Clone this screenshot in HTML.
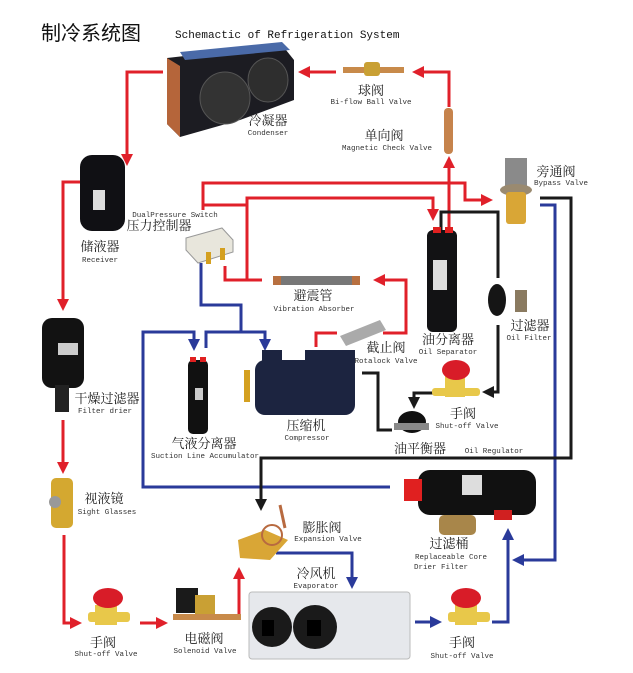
<!DOCTYPE html>
<html><head><meta charset="utf-8"><style>
html,body{margin:0;padding:0;background:#fff;}
svg{display:block;}
.cn{font-family:"Liberation Serif","Noto Serif CJK SC",serif;font-size:13px;fill:#222;text-anchor:middle;}
.en{font-family:"Liberation Mono",monospace;font-size:7.5px;fill:#333;text-anchor:middle;}
.r{stroke:#e0202a;stroke-width:3;fill:none;}
.b{stroke:#2a3a9a;stroke-width:3;fill:none;}
.k{stroke:#1a1a1a;stroke-width:3;fill:none;}
</style></head><body>
<svg width="633" height="673" viewBox="0 0 633 673" xmlns="http://www.w3.org/2000/svg">
<defs>
<marker id="ar" markerWidth="4" markerHeight="4" refX="2" refY="2" orient="auto" markerUnits="strokeWidth"><path d="M0,0 L4,2 L0,4z" fill="#e0202a"/></marker>
<marker id="ab" markerWidth="4" markerHeight="4" refX="2" refY="2" orient="auto" markerUnits="strokeWidth"><path d="M0,0 L4,2 L0,4z" fill="#2a3a9a"/></marker>
<marker id="ak" markerWidth="4" markerHeight="4" refX="2" refY="2" orient="auto" markerUnits="strokeWidth"><path d="M0,0 L4,2 L0,4z" fill="#1a1a1a"/></marker>
</defs>
<text x="41" y="40" style="font-family:'Noto Sans CJK SC',sans-serif;font-size:20px;fill:#111">制冷系统图</text>
<text x="175" y="38" style="font-family:'Liberation Mono',monospace;font-size:11px;fill:#111">Schemactic of Refrigeration System</text>

<!-- red lines -->
<polyline class="r" points="163,72 127,72 127,160" marker-end="url(#ar)"/>
<polyline class="r" points="80,182 63,182 63,305" marker-end="url(#ar)"/>
<polyline class="r" points="63,420 63,468" marker-end="url(#ar)"/>
<polyline class="r" points="64,535 64,623 76,623" marker-end="url(#ar)"/>
<polyline class="r" points="140,623 162,623" marker-end="url(#ar)"/>
<polyline class="r" points="239,615 239,573" marker-end="url(#ar)"/>
<polyline class="r" points="336,72 304,72" marker-end="url(#ar)"/>
<polyline class="r" points="449,107 449,72 418,72" marker-end="url(#ar)"/>
<polyline class="r" points="449,230 449,162" marker-end="url(#ar)"/>
<polyline class="r" points="203,210 203,183 465,183 465,200 487,200" marker-end="url(#ar)"/>
<polyline class="r" points="203,205 247,205"/>
<polyline class="r" points="247,280 247,198 433,198 433,215" marker-end="url(#ar)"/>
<polyline class="r" points="262,280 225,280 225,266"/>
<polyline class="r" points="383,333 406,333 406,280 379,280" marker-end="url(#ar)"/>
<polyline class="r" points="316,347 316,333 337,333"/>

<!-- blue lines -->
<polyline class="b" points="201,263 201,305 241,305 241,332"/>
<polyline class="b" points="390,487 143,487 143,332 194,332 194,345" marker-end="url(#ab)"/>
<polyline class="b" points="206,348 206,332 265,332 265,345" marker-end="url(#ab)"/>
<polyline class="b" points="540,205 555,205 555,560 518,560" marker-end="url(#ab)"/>
<polyline class="b" points="492,622 508,622 508,534" marker-end="url(#ab)"/>
<polyline class="b" points="415,622 436,622" marker-end="url(#ab)"/>
<polyline class="b" points="276,553 352,553 352,583" marker-end="url(#ab)"/>

<!-- black lines -->
<polyline class="k" points="441,230 441,212 498,212 498,278"/>
<polyline class="k" points="498,325 498,392 488,392" marker-end="url(#ak)"/>
<polyline class="k" points="433,393 414,393 414,403" marker-end="url(#ak)"/>
<polyline class="k" points="540,198 571,198 571,458 261,458 261,505" marker-end="url(#ak)"/>
<polyline class="k" points="362,373 378,373 378,430 392,430"/>

<!-- condenser -->
<polygon points="167,58 282,45 294,60 294,100 240,120 180,137 167,124" fill="#1c1c22"/>
<polygon points="167,58 180,66 180,137 167,124" fill="#b5653a"/>
<ellipse cx="225" cy="98" rx="25" ry="26" fill="#333" stroke="#555"/>
<ellipse cx="268" cy="80" rx="20" ry="22" fill="#2e2e2e" stroke="#555"/>
<polygon points="180,52 282,42 290,50 185,60" fill="#4a6aa8"/>
<!-- ball valve -->
<rect x="343" y="67" width="61" height="6" fill="#c88a4a"/>
<rect x="364" y="62" width="16" height="14" rx="3" fill="#c9a034"/>
<!-- check valve -->
<rect x="444" y="108" width="9" height="46" rx="4" fill="#c6834c"/>
<!-- receiver -->
<rect x="80" y="155" width="45" height="76" rx="12" fill="#101014"/>
<rect x="93" y="190" width="12" height="20" fill="#ddd"/>
<!-- pressure switch -->
<polygon points="186,238 222,228 233,240 233,252 198,263 186,250" fill="#e8e6dc" stroke="#999"/>
<rect x="206" y="252" width="5" height="12" fill="#d4a020"/><rect x="220" y="248" width="5" height="12" fill="#d4a020"/>
<!-- vibration absorber -->
<rect x="273" y="276" width="87" height="9" rx="3" fill="#777"/>
<rect x="273" y="276" width="8" height="9" fill="#b87040"/><rect x="352" y="276" width="8" height="9" fill="#b87040"/>
<!-- oil separator -->
<rect x="427" y="230" width="30" height="102" rx="6" fill="#121214"/>
<rect x="433" y="227" width="8" height="6" fill="#e02020"/><rect x="445" y="227" width="8" height="6" fill="#e02020"/>
<rect x="433" y="260" width="14" height="30" fill="#ddd"/>
<!-- bypass valve -->
<rect x="505" y="158" width="22" height="30" fill="#8a8a8a"/>
<ellipse cx="516" cy="190" rx="16" ry="6" fill="#9a8a70"/>
<rect x="506" y="192" width="20" height="32" rx="3" fill="#d9a636"/>
<!-- oil filter -->
<ellipse cx="497" cy="300" rx="9" ry="16" fill="#151515"/>
<rect x="515" y="290" width="12" height="22" fill="#8a7a60"/>
<!-- rotalock -->
<polygon points="340,336 380,320 386,330 346,346" fill="#aaa"/>
<!-- compressor -->
<rect x="255" y="360" width="100" height="55" rx="10" fill="#1c2440"/>
<rect x="305" y="350" width="50" height="20" fill="#1c2440"/>
<rect x="262" y="350" width="20" height="15" fill="#1c2440"/>
<rect x="244" y="370" width="6" height="32" fill="#d4a020"/>
<!-- accumulator -->
<rect x="188" y="360" width="20" height="74" rx="5" fill="#111"/>
<rect x="190" y="357" width="6" height="5" fill="#e02020"/><rect x="200" y="357" width="6" height="5" fill="#e02020"/>
<rect x="195" y="388" width="8" height="12" fill="#ccc"/>
<!-- filter drier -->
<rect x="42" y="318" width="42" height="70" rx="10" fill="#121212"/>
<rect x="55" y="385" width="14" height="27" fill="#222"/>
<rect x="58" y="343" width="20" height="12" fill="#ccc"/>
<!-- sight glass -->
<rect x="51" y="478" width="22" height="50" rx="5" fill="#d4a830"/>
<circle cx="55" cy="502" r="6" fill="#999"/>
<!-- shut-off valve upper -->
<rect x="445" y="375" width="20" height="22" fill="#e8c84a"/>
<rect x="432" y="388" width="48" height="8" rx="3" fill="#e8c84a"/>
<ellipse cx="456" cy="370" rx="14" ry="10" fill="#d81c28"/>
<!-- oil regulator -->
<ellipse cx="412" cy="422" rx="14" ry="11" fill="#111"/>
<rect x="394" y="423" width="35" height="7" fill="#888"/>
<!-- replaceable core drier -->
<rect x="418" y="470" width="118" height="45" rx="12" fill="#111"/>
<rect x="404" y="479" width="18" height="22" fill="#e02020"/>
<rect x="494" y="510" width="18" height="10" fill="#d02020"/>
<rect x="462" y="475" width="20" height="20" fill="#ddd"/>
<rect x="439" y="515" width="37" height="20" rx="5" fill="#a8864a"/>
<!-- expansion valve -->
<polygon points="238,540 265,530 288,540 270,560 240,558" fill="#d9a636"/>
<circle cx="272" cy="535" r="10" fill="none" stroke="#b86a40" stroke-width="2"/>
<line x1="280" y1="505" x2="285" y2="528" stroke="#b86a40" stroke-width="3"/>
<!-- evaporator -->
<rect x="249" y="592" width="161" height="67" rx="3" fill="#e6e8ec" stroke="#bbb"/>
<circle cx="272" cy="627" r="20" fill="#1a1a1a"/><circle cx="315" cy="627" r="22" fill="#1a1a1a"/>
<rect x="262" y="620" width="12" height="16" fill="#000"/><rect x="307" y="620" width="14" height="16" fill="#000"/>
<!-- lower shut-offs -->
<rect x="95" y="605" width="22" height="20" fill="#e8c84a"/><rect x="88" y="612" width="42" height="10" rx="3" fill="#e8c84a"/>
<ellipse cx="108" cy="598" rx="15" ry="10" fill="#d81c28"/>
<rect x="455" y="605" width="22" height="20" fill="#e8c84a"/><rect x="448" y="612" width="42" height="10" rx="3" fill="#e8c84a"/>
<ellipse cx="466" cy="598" rx="15" ry="10" fill="#d81c28"/>
<!-- solenoid -->
<rect x="176" y="588" width="22" height="25" fill="#1a1a1a"/>
<rect x="195" y="595" width="20" height="22" fill="#c9a034"/>
<rect x="173" y="614" width="68" height="6" fill="#c88a4a"/>

<!-- labels -->
<text class="cn" x="371" y="95">球阀</text><text class="en" x="371" y="104">Bi-flow Ball Valve</text>
<text class="cn" x="268" y="125">冷凝器</text><text class="en" x="268" y="135">Condenser</text>
<text class="cn" x="384" y="140">单向阀</text><text class="en" x="387" y="150">Magnetic Check Valve</text>
<text class="cn" x="556" y="176">旁通阀</text><text class="en" x="561" y="185">Bypass Valve</text>
<text class="en" x="175" y="217">DualPressure Switch</text>
<text class="cn" x="159" y="230">压力控制器</text>
<text class="cn" x="100" y="251">储液器</text><text class="en" x="100" y="262">Receiver</text>
<text class="cn" x="313" y="300">避震管</text><text class="en" x="314" y="311">Vibration Absorber</text>
<text class="cn" x="530" y="330">过滤器</text><text class="en" x="529" y="340">Oil Filter</text>
<text class="cn" x="448" y="344">油分离器</text><text class="en" x="448" y="354">Oil Separator</text>
<text class="cn" x="386" y="352">截止阀</text><text class="en" x="386" y="363">Rotalock Valve</text>
<text class="cn" x="107" y="403">干燥过滤器</text><text class="en" x="105" y="413">Filter drier</text>
<text class="cn" x="463" y="418">手阀</text><text class="en" x="467" y="428">Shut-off Valve</text>
<text class="cn" x="306" y="430">压缩机</text><text class="en" x="307" y="440">Compressor</text>
<text class="cn" x="204" y="448">气液分离器</text><text class="en" x="205" y="458">Suction Line Accumulator</text>
<text class="cn" x="420" y="453">油平衡器</text><text class="en" x="494" y="453">Oil Regulator</text>
<text class="cn" x="104" y="503">视液镜</text><text class="en" x="107" y="514">Sight Glasses</text>
<text class="cn" x="322" y="532">膨胀阀</text><text class="en" x="328" y="541">Expansion Valve</text>
<text class="cn" x="449" y="548">过滤桶</text><text class="en" x="451" y="559">Replaceable Core</text><text class="en" x="441" y="569">Drier Filter</text>
<text class="cn" x="316" y="578">冷风机</text><text class="en" x="316" y="588">Evaporator</text>
<text class="cn" x="204" y="643">电磁阀</text><text class="en" x="205" y="653">Solenoid Valve</text>
<text class="cn" x="103" y="647">手阀</text><text class="en" x="106" y="656">Shut-off Valve</text>
<text class="cn" x="462" y="647">手阀</text><text class="en" x="462" y="658">Shut-off Valve</text>
</svg>
</body></html>
